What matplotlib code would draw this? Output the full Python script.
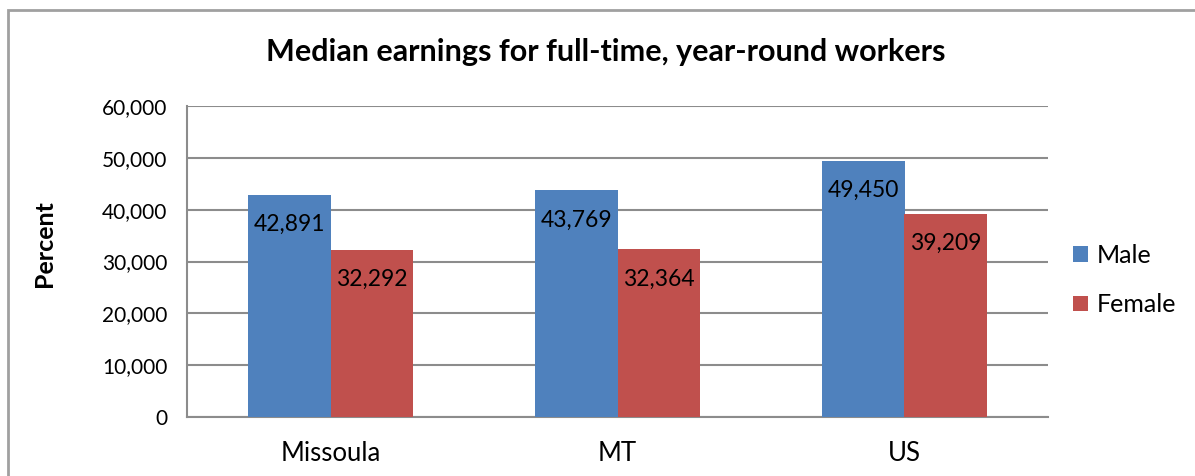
import matplotlib.pyplot as plt
import numpy as np
from matplotlib.patches import Rectangle
from matplotlib.ticker import FuncFormatter

plt.rcParams["font.family"] = ["Lato", "DejaVu Sans"]

places = ["Missoula", "MT", "US"]
male = [42891, 43769, 49450]
female = [32292, 32364, 39209]

blue = "#4F81BD"
red = "#C0504D"
grid_grey = "#8C8C8C"

fig = plt.figure(figsize=(11.95, 4.76), dpi=100)
ax = fig.add_axes([187 / 1195, 1 - 417 / 476, 861 / 1195, 311 / 476])

# chart area border, runs off the right and bottom of the picture
fig.patches.append(Rectangle((8 / 1195, -0.1), 1.2, 1 - 10 / 476 + 0.1,
                             transform=fig.transFigure, fill=False,
                             edgecolor="#A0A0A0", linewidth=2))

x = np.arange(len(places))
w = 0.286
b1 = ax.bar(x - w / 2, male, w, color=blue, label="Male", zorder=3)
b2 = ax.bar(x + w / 2, female, w, color=red, label="Female", zorder=3)

for bars, vals in ((b1, male), (b2, female)):
    for r, v in zip(bars, vals):
        ax.annotate(f"{v:,}", (r.get_x() + r.get_width() / 2, v),
                    xytext=(0, -30), textcoords="offset pixels",
                    ha="center", va="center", fontsize=16.5, color="black",
                    zorder=4)

ax.set_xlim(-0.5, 2.5)
ax.set_ylim(0, 60000)
ax.set_yticks(range(0, 60001, 10000))
ax.yaxis.set_major_formatter(FuncFormatter(lambda v, p: f"{int(v):,}"))
ax.set_xticks(x)
ax.set_xticklabels(places)
ax.tick_params(length=0, labelsize=15, pad=14)
ax.tick_params(axis="x", labelsize=18.5, pad=17)
ax.grid(axis="y", color=grid_grey, linewidth=1.5, zorder=0)
for s in ("top", "right"):
    ax.spines[s].set_visible(False)
for s in ("left", "bottom"):
    ax.spines[s].set_color(grid_grey)
    ax.spines[s].set_linewidth(1.5)

fig.text(606 / 1195, 1 - 52 / 476, "Median earnings for full-time, year-round workers",
         ha="center", va="center", fontsize=22, fontweight="bold")
fig.text(45 / 1195, 1 - 244 / 476, "Percent", rotation=90, ha="center",
         va="center", fontsize=18, fontweight="bold")

ax.legend(loc="center left", bbox_to_anchor=(1.003, 0.44), frameon=False,
          fontsize=18, handlelength=0.6, handleheight=0.6, labelspacing=1.05,
          handletextpad=0.35)

fig.savefig("out.png", dpi=100)
